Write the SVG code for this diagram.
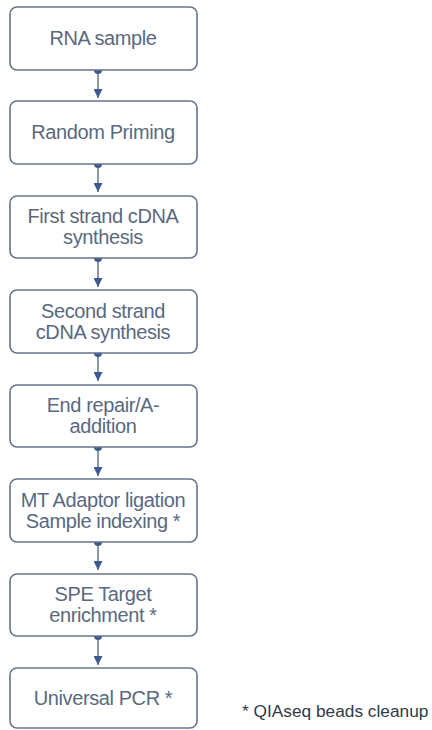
<svg xmlns="http://www.w3.org/2000/svg" width="432" height="730" viewBox="0 0 432 730">
<defs>
<style>
.box{fill:#ffffff;stroke:#66748a;stroke-width:1.6}
.t{font-family:"Liberation Sans",Arial,sans-serif;font-size:20px;fill:#5a6980;text-anchor:middle;letter-spacing:-0.4px}
.note{font-family:"Liberation Sans",Arial,sans-serif;font-size:17.3px;fill:#333a44}
.ln{stroke:#66748a;stroke-width:1.5;fill:none}
.dot{fill:#3d5a8c}
</style>
<marker id="ah" viewBox="0 0 10 10" refX="10" refY="5" markerWidth="9" markerHeight="9" markerUnits="userSpaceOnUse" orient="auto">
<path d="M0,0 L10,5 L0,10 z" fill="#3d5a8c"/>
</marker>
</defs>
<rect width="432" height="730" fill="#ffffff"/>
<g id="connectors">
<line class="ln" x1="98" y1="70" x2="98" y2="98" marker-end="url(#ah)"/><circle class="dot" cx="98" cy="70" r="4"/>
<line class="ln" x1="98" y1="164" x2="98" y2="192" marker-end="url(#ah)"/><circle class="dot" cx="98" cy="164" r="4"/>
<line class="ln" x1="98" y1="258" x2="98" y2="287" marker-end="url(#ah)"/><circle class="dot" cx="98" cy="258" r="4"/>
<line class="ln" x1="98" y1="353" x2="98" y2="381" marker-end="url(#ah)"/><circle class="dot" cx="98" cy="353" r="4"/>
<line class="ln" x1="98" y1="447" x2="98" y2="476" marker-end="url(#ah)"/><circle class="dot" cx="98" cy="447" r="4"/>
<line class="ln" x1="98" y1="542" x2="98" y2="570" marker-end="url(#ah)"/><circle class="dot" cx="98" cy="542" r="4"/>
<line class="ln" x1="98" y1="636" x2="98" y2="665" marker-end="url(#ah)"/><circle class="dot" cx="98" cy="636" r="4"/>
</g>
<g id="n1"><rect class="box" x="10" y="7" width="187" height="63" rx="7"/><text class="t" x="103" y="45">RNA sample</text></g>
<g id="n2"><rect class="box" x="10" y="101" width="187" height="63" rx="7"/><text class="t" x="103" y="139">Random Priming</text></g>
<g id="n3"><rect class="box" x="10" y="196" width="187" height="62" rx="7"/><text class="t" x="103" y="223">First strand cDNA</text><text class="t" x="103" y="244">synthesis</text></g>
<g id="n4"><rect class="box" x="10" y="290" width="187" height="63" rx="7"/><text class="t" x="103" y="318">Second strand</text><text class="t" x="103" y="339">cDNA synthesis</text></g>
<g id="n5"><rect class="box" x="10" y="385" width="187" height="62" rx="7"/><text class="t" x="103" y="412">End repair/A-</text><text class="t" x="103" y="433">addition</text></g>
<g id="n6"><rect class="box" x="10" y="479" width="187" height="63" rx="7"/><text class="t" x="103" y="507">MT Adaptor ligation</text><text class="t" x="103" y="528">Sample indexing *</text></g>
<g id="n7"><rect class="box" x="10" y="574" width="187" height="62" rx="7"/><text class="t" x="103" y="601">SPE Target</text><text class="t" x="103" y="622">enrichment *</text></g>
<g id="n8"><rect class="box" x="10" y="668" width="187" height="60" rx="7"/><text class="t" x="103" y="705">Universal PCR *</text></g>
<text class="note" x="242" y="717">* QIAseq beads cleanup</text>
</svg>
